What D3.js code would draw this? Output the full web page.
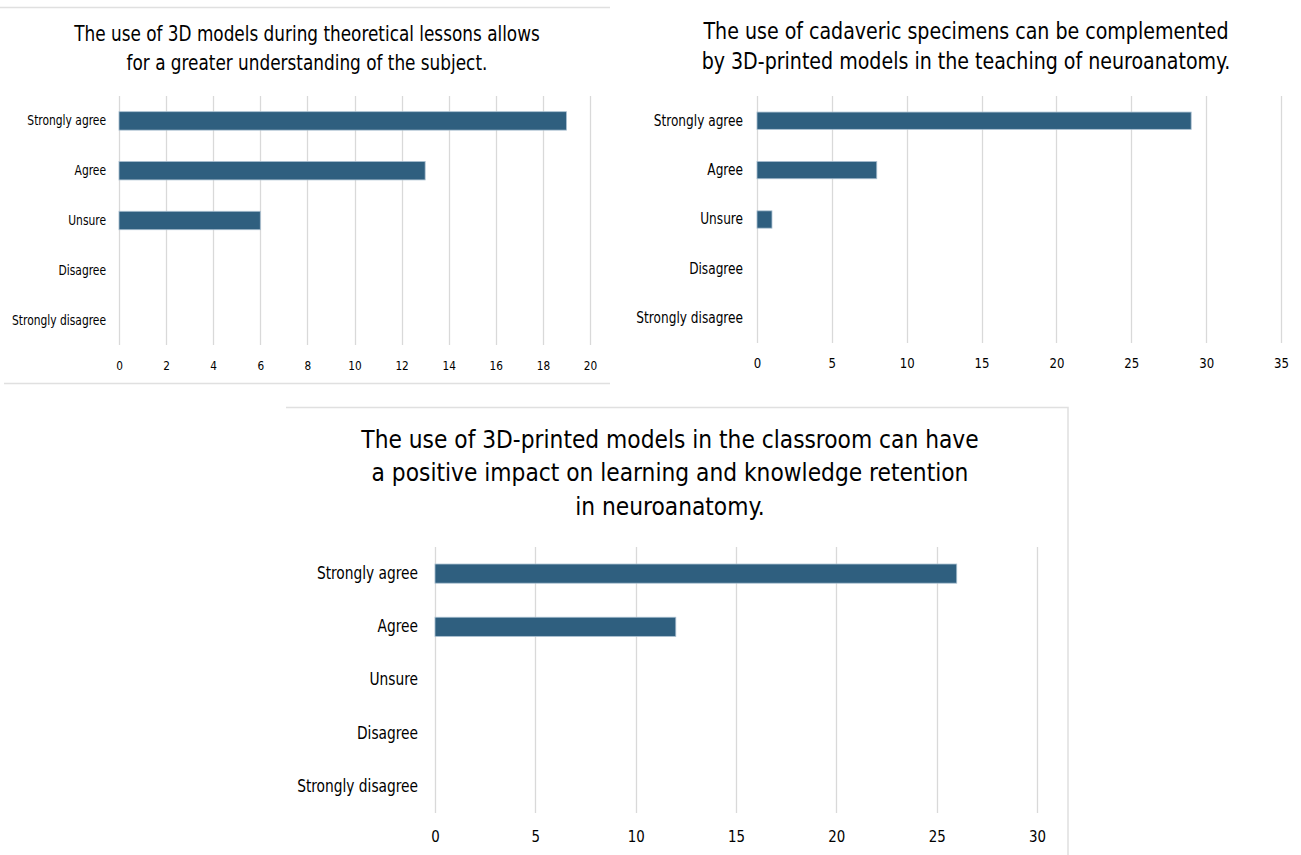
<!DOCTYPE html>
<html><head><meta charset="utf-8">
<script src="https://cdn.jsdelivr.net/npm/d3@7"></script>
<style>
body{margin:0;background:#fff;}
svg text{font-family:"DejaVu Sans Condensed","Liberation Sans Narrow","Roboto",sans-serif;fill:#000;}
</style></head>
<body><svg id="c" width="1301" height="855"></svg>
<script>
const categories = ["Strongly agree","Agree","Unsure","Disagree","Strongly disagree"];
const values1 = [19, 13, 6, 0, 0];
const values2 = [29, 8, 1, 0, 0];
const values3 = [26, 12, 0, 0, 0];
const ticks1 = [0,2,4,6,8,10,12,14,16,18,20];
const ticks2 = [0,5,10,15,20,25,30,35];
const ticks3 = [0,5,10,15,20,25,30];
const title1 = ["The use of 3D models during theoretical lessons allows","for a greater understanding of the subject."];
const title2 = ["The use of cadaveric specimens can be complemented","by 3D-printed models in the teaching of neuroanatomy."];
const title3 = ["The use of 3D-printed models in the classroom can have","a positive impact on learning and knowledge retention","in neuroanatomy."];

const svg = d3.select("#c");
const BAR = "#2f5f7f", GRID = "#d9d9d9";

function squeeze(sel, f){
  sel.each(function(){
    const L = this.getComputedTextLength();
    d3.select(this).attr("textLength", L*f).attr("lengthAdjust","spacingAndGlyphs");
  });
}

// panel borders
svg.append("line").attr("x1",0).attr("x2",610).attr("y1",7.5).attr("y2",7.5).attr("stroke","#e0e0e0").attr("stroke-width",1.5);
svg.append("line").attr("x1",4).attr("x2",610).attr("y1",383.5).attr("y2",383.5).attr("stroke","#e0e0e0").attr("stroke-width",1.5);
svg.append("path").attr("d","M286,407.5H1068V855").attr("fill","none").attr("stroke","#e0e0e0").attr("stroke-width",1.5);

function panel(o){
  const g = svg.append("g");
  const x = d3.scaleLinear().domain([0, o.ticks[o.ticks.length-1]]).range([o.x0, o.x1]);
  const y = d3.scaleBand().domain(categories).range([o.y0, o.y1]).paddingInner(o.pad).paddingOuter(o.pad/2);
  // grid
  g.append("g").selectAll("line").data(o.ticks).join("line")
    .attr("x1",d=>Math.round(x(d))+0.5).attr("x2",d=>Math.round(x(d))+0.5)
    .attr("y1",o.y0).attr("y2",o.y1).attr("stroke",GRID).attr("stroke-width",1.3);
  // bars
  g.append("g").selectAll("rect").data(o.values).join("rect")
    .attr("x",x(0)).attr("y",(d,i)=>y(categories[i]))
    .attr("width",d=>x(d)-x(0)).attr("height",y.bandwidth())
    .attr("fill",BAR).attr("stroke",d=>d>0?"#a9bfd0":"none").attr("stroke-width",0.8);
  // x axis labels
  const ax = d3.axisBottom(x).tickValues(o.ticks).tickSize(0).tickPadding(0);
  const axg = g.append("g").attr("transform",`translate(0,${o.tickY})`).call(ax);
  axg.select(".domain").remove();
  axg.selectAll("text").attr("font-size",o.tickFs).attr("dy","0.35em").attr("fill","#000")
     .style("font-family",'"DejaVu Sans Condensed",sans-serif');
  squeeze(axg.selectAll("text"), o.tickSq);
  // y axis labels
  const ay = d3.axisLeft(y).tickSize(0).tickPadding(0);
  const ayg = g.append("g").attr("transform",`translate(${o.labX},0)`).call(ay);
  ayg.select(".domain").remove();
  ayg.selectAll("text").attr("font-size",o.catFs).attr("fill","#000")
     .style("font-family",'"DejaVu Sans Condensed",sans-serif');
  squeeze(ayg.selectAll("text"), o.catSq);
  // title
  const tt = g.append("g").selectAll("text").data(o.title).join("text")
    .attr("x",o.tx).attr("y",(d,i)=>o.ty+i*o.tl).attr("text-anchor","middle")
    .attr("font-size",o.tfs).attr("dy","0.35em").text(d=>d);
  squeeze(tt, o.tSq);
}

panel({values:values1,ticks:ticks1,x0:119,x1:590,y0:96,y1:345,pad:0.63,tickY:365,labX:106,tickFs:13,catFs:14,tickSq:0.9,catSq:0.85,
  title:title1,tx:307,ty:34,tl:29,tfs:20.5,tSq:0.915});
panel({values:values2,ticks:ticks2,x0:757,x1:1281,y0:96,y1:343,pad:0.65,tickY:363,labX:743,tickFs:14.5,catFs:15,tickSq:0.9,catSq:0.9,
  title:title2,tx:966,ty:31,tl:30,tfs:22.5,tSq:0.94});
panel({values:values3,ticks:ticks3,x0:435,x1:1037,y0:547,y1:813,pad:0.64,tickY:836,labX:418,tickFs:16.5,catFs:17,tickSq:0.9,catSq:0.9,
  title:title3,tx:670,ty:439,tl:33.5,tfs:25.5,tSq:0.95});
</script></body></html>
